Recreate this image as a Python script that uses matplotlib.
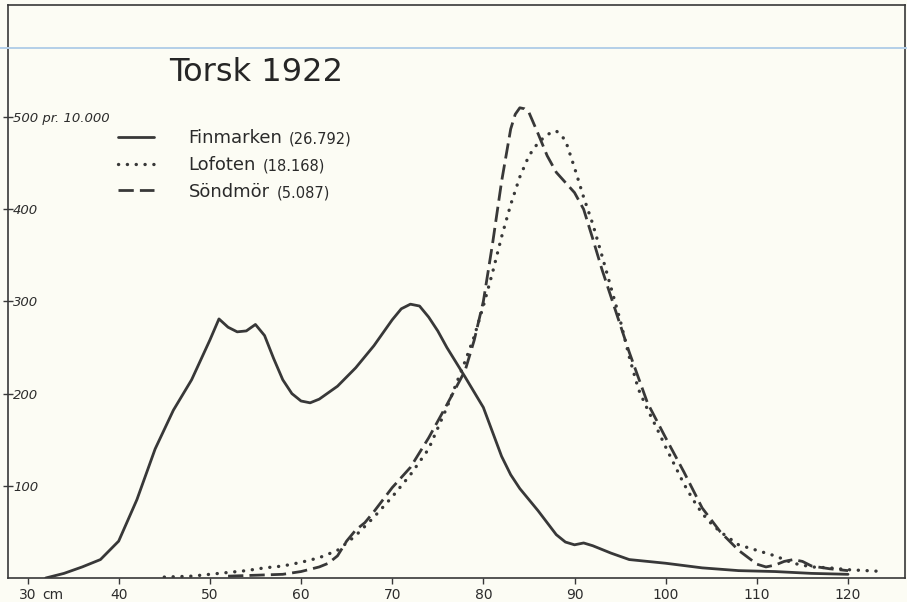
import matplotlib
matplotlib.use("Agg")
import matplotlib.pyplot as plt
from matplotlib.lines import Line2D

# ---------------- data ----------------
fin_x = [32, 34, 36, 38, 40, 42, 44, 46, 48, 50, 51, 52, 53, 54, 55, 56, 57, 58, 59, 60,
         61, 62, 64, 66, 68, 70, 71, 72, 73, 74, 75, 76, 78, 80, 82, 83, 84, 86, 88, 89,
         90, 91, 92, 94, 96, 98, 100, 104, 108, 112, 116, 120]
fin_y = [0, 5, 12, 20, 40, 85, 140, 182, 215, 258, 281, 272, 267, 268, 275, 263, 238, 215, 200, 192,
         190, 194, 208, 228, 252, 280, 292, 297, 295, 283, 268, 250, 218, 185, 132, 112, 97, 73, 47, 39,
         36, 38, 35, 27, 20, 18, 16, 11, 8, 7, 5, 4]

lof_x = [45, 48, 50, 52, 54, 56, 58, 60, 62, 64, 66, 68, 70, 72, 74, 76, 78, 79, 80, 81,
         82, 83, 84, 85, 86, 87, 88, 89, 90, 91, 92, 93, 94, 95, 96, 97, 98, 99, 100, 101,
         102, 103, 104, 105, 106, 108, 110, 112, 114, 116, 118, 120, 122, 124]
lof_y = [1, 2, 4, 6, 8, 11, 13, 17, 22, 30, 46, 66, 88, 112, 140, 185, 235, 262, 295, 331,
         370, 405, 435, 458, 472, 481, 485, 475, 445, 413, 384, 350, 315, 280, 240, 205, 183, 163, 142, 122,
         102, 85, 70, 59, 50, 36, 30, 24, 16, 12, 11, 9, 8, 7]

son_x = [52, 55, 58, 60, 62, 63, 64, 65, 66, 67, 68, 69, 70, 72, 74, 76, 78, 79, 80, 81,
         82, 83, 83.5, 84, 84.5, 85, 86, 87, 88, 89, 90, 91, 92, 93, 94, 95, 96, 98, 100, 102,
         104, 106, 108, 110, 111, 112, 113, 114, 115, 116, 118, 120]
son_y = [2, 3, 4, 7, 12, 16, 24, 40, 52, 60, 72, 85, 98, 120, 152, 188, 225, 258, 300, 362,
         430, 487, 503, 510, 509, 505, 482, 458, 440, 429, 418, 400, 368, 335, 305, 275, 245, 190, 152, 115,
         76, 50, 30, 15, 12, 14, 18, 20, 18, 13, 10, 8]

series_names = ["Finmarken", "Lofoten", "Söndmör"]
series_counts = ["(26.792)", "(18.168)", "(5.087)"]

x_ticks = [30, 40, 50, 60, 70, 80, 90, 100, 110, 120]
x_tick_labels = ["30", "40", "50", "60", "70", "80", "90", "100", "110", "120"]
x_unit = "cm"
y_ticks = [100, 200, 300, 400, 500]
y_tick_labels = ["100", "200", "300", "400", "500 pr. 10.000"]

title = "Torsk 1922"

# ---------------- style ----------------
paper = "#fcfcf4"
ink = "#383838"
plt.rcParams["font.family"] = ["DejaVu Sans"]

fig = plt.figure(figsize=(9.07, 6.02), dpi=100, facecolor=paper)
ax = fig.add_axes([8 / 907, 24 / 602, 897 / 907, 573 / 602])
ax.set_facecolor(paper)

ax.set_xlim(27.86, 126.25)
ax.set_ylim(0, 621.5)

l1, = ax.plot(fin_x, fin_y, color=ink, lw=2.0, solid_capstyle="round",
              solid_joinstyle="round")
l2, = ax.plot(lof_x, lof_y, color=ink, lw=2.4, linestyle=(0, (0.05, 2.6)),
              dash_capstyle="round")
l3, = ax.plot(son_x, son_y, color=ink, lw=2.0, linestyle=(0, (5.5, 2.2)),
              dash_capstyle="butt")

for s in ax.spines.values():
    s.set_color(ink)
    s.set_linewidth(1.2)

ax.set_xticks(x_ticks)
ax.set_xticklabels(x_tick_labels, fontsize=10, color="#2c2c2c")
ax.tick_params(axis="x", direction="out", length=4, width=1.0, color=ink, pad=3)
first_xlabel = ax.get_xticklabels()[0]
ax.annotate(x_unit, xy=(1, 0), xycoords=first_xlabel, xytext=(4, 0),
            textcoords="offset points", ha="left", va="bottom",
            fontsize=10, color="#2c2c2c", zorder=10)

ax.set_yticks(y_ticks)
ax.set_yticklabels(y_tick_labels, fontsize=9.5, style="italic", color="#2c2c2c")
ax.tick_params(axis="y", direction="inout", length=7, width=1.0, color=ink, pad=-7)
for t in ax.get_yticklabels():
    t.set_horizontalalignment("left")

ax.text(0.277, 0.883, title, transform=ax.transAxes, ha="center", va="center",
        fontsize=23, color="#262626")

leg = ax.legend([l1, l2, l3], series_names, loc="upper left",
                bbox_to_anchor=(0.1226, 0.783), frameon=False, fontsize=13,
                handlelength=2.0, handletextpad=1.9, labelspacing=0.48,
                borderpad=0, borderaxespad=0)
for txt in leg.get_texts():
    txt.set_color("#2a2a2a")
for txt, cnt in zip(leg.get_texts(), series_counts):
    ax.annotate(cnt, xy=(1, 0.45), xycoords=txt, xytext=(5, 0),
                textcoords="offset points", va="center", ha="left",
                fontsize=10.5, color="#2a2a2a", zorder=10)

# faint blue ruling line of the scanned sheet
fig.add_artist(Line2D([0, 1], [1 - 48 / 602, 1 - 48 / 602], transform=fig.transFigure,
                      color="#b4cfe8", lw=1.4, zorder=0.5))

fig.savefig("out.png", dpi=100, facecolor=paper)
